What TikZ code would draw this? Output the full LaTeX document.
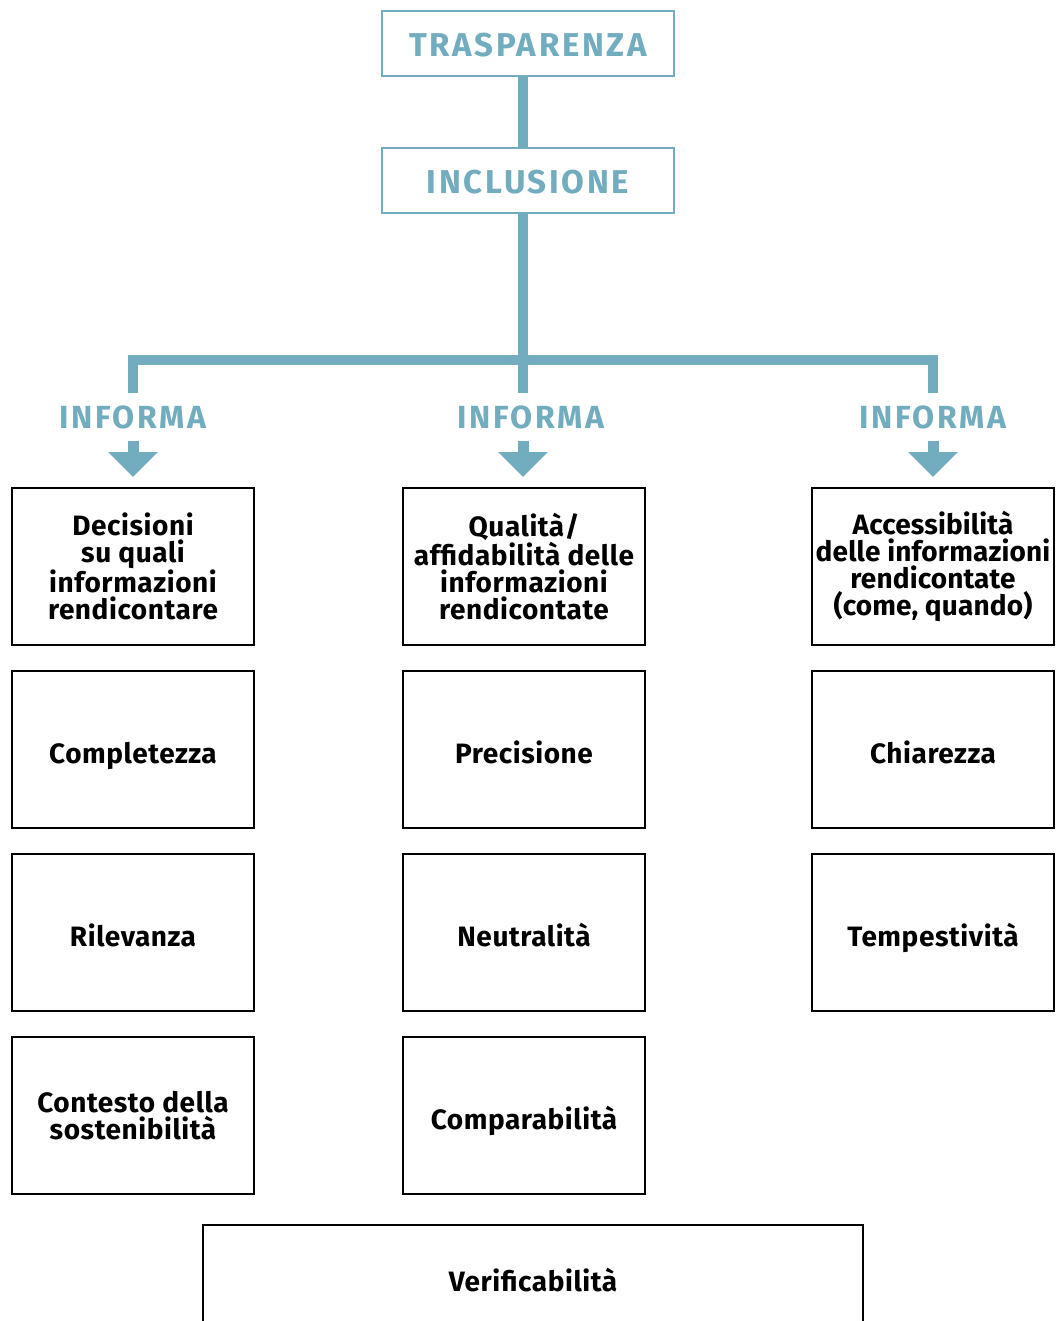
\documentclass[tikz,border=0pt]{standalone}
\usepackage{fontspec}
\setmainfont{Fira Sans}
\newfontfamily\headfont{Fira Sans}[LetterSpace=8]
\newfontfamily\bodyfont{Fira Sans}[LetterSpace=2]
\newfontfamily\tightfont{Fira Sans}[LetterSpace=0.5]
\usetikzlibrary{arrows.meta}
\definecolor{tealblue}{RGB}{114,172,191}
\begin{document}
\begin{tikzpicture}[x=1pt,y=-1pt,
  topbox/.style={draw=tealblue,line width=2pt,minimum width=292pt,minimum height=65pt,
    text=tealblue,font=\headfont\fontsize{33}{33}\selectfont\bfseries,inner sep=0pt,
    text height=27pt,text depth=0pt},
  infobox/.style={draw=black,line width=2pt,minimum width=242pt,minimum height=157pt,
    align=center,font=\bodyfont\fontsize{28}{26.8}\selectfont\bfseries,inner sep=0pt},
  oneline/.style={infobox,text height=27pt,text depth=0pt},
  lbl/.style={text=tealblue,font=\headfont\fontsize{32}{32}\selectfont\bfseries,inner sep=0pt},
  bar/.style={draw=tealblue,line width=10pt},
  down/.style={draw=tealblue,line width=11pt,-{Triangle[width=48pt,length=25pt]},
    shorten <=12pt,shorten >=10pt}
]
\useasboundingbox (0,0) rectangle (1055,1321);
\fill[white] (0,0) rectangle (1055,1321);

% Top of the hierarchy
\node[topbox] (trasp) at (528,43.5) {TRASPARENZA};
\node[topbox] (incl) at (528,180.5) {INCLUSIONE};

% Branching bar
\coordinate (hub) at (523,360);
\coordinate (hl) at (133,360);
\coordinate (hr) at (933,360);
\coordinate (dl) at (133,393);
\coordinate (dm) at (523,393);
\coordinate (dr) at (933,393);
\draw[bar] (trasp.south -| hub) -- (incl.north -| hub);
\draw[bar] (incl.south -| hub) -- (dm);
\draw[bar,line cap=rect] (hl) -- (hr);
\draw[bar] (hl) -- (dl);
\draw[bar] (hr) -- (dr);

% Branch labels
\node[lbl,anchor=base] (inf1) at (133,428) {INFORMA};
\node[lbl,anchor=base] (inf2) at (531,428) {INFORMA};
\node[lbl,anchor=base] (inf3) at (933,428) {INFORMA};

% Column 1
\node[infobox] (a1) at (133,566.5) {Decisioni\\su quali\\informazioni\\rendicontare};
\node[oneline] (a2) at (133,749.5) {Completezza};
\node[oneline] (a3) at (133,932.5) {Rilevanza};
\node[infobox] (a4) at (133,1115.5) {Contesto della\\sostenibilità};

% Column 2
\node[infobox] (b1) at (524,566.5) {Qualità/\\affidabilità delle\\informazioni\\rendicontate};
\node[oneline] (b2) at (524,749.5) {Precisione};
\node[oneline] (b3) at (524,932.5) {Neutralità};
\node[oneline] (b4) at (524,1115.5) {Comparabilità};

% Column 3
\node[infobox,font=\tightfont\fontsize{28}{26.8}\selectfont\bfseries] (c1) at (933,566.5)
  {Accessibilità\\delle informazioni\\rendicontate\\(come, quando)};
\node[oneline] (c2) at (933,749.5) {Chiarezza};
\node[oneline] (c3) at (933,932.5) {Tempestività};

% Wide box at the foot
\node[oneline,minimum width=660pt,minimum height=106pt] (ver) at (533,1278) {Verificabilità};

% Arrows into the columns
\draw[down] (inf1.south) -- (inf1.south |- a1.north);
\draw[down] (inf2.south -| dm) -- (dm |- b1.north);
\draw[down] (inf3.south) -- (inf3.south |- c1.north);
\end{tikzpicture}
\end{document}
